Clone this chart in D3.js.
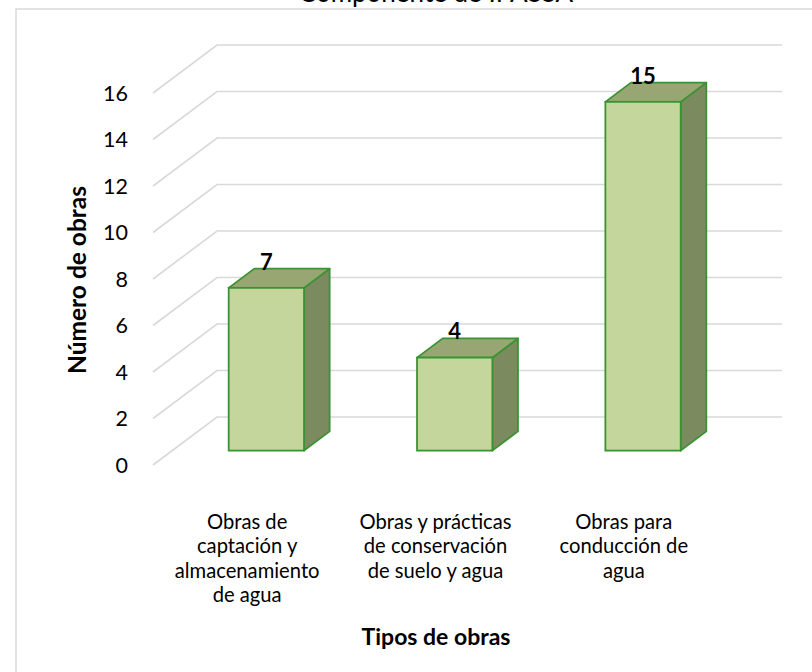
<!DOCTYPE html>
<html>
<head>
<meta charset="utf-8">
<script src="https://cdn.jsdelivr.net/npm/d3@7"></script>
<style>
  html, body { margin: 0; padding: 0; background: #fff; }
  svg { display: block; font-family: Lato, "Open Sans", sans-serif; }
</style>
</head>
<body>
<svg id="chart" width="812" height="672"></svg>
<script>
// Chart content
const title = "Componente de IPASSA";
const categories = [
  ["Obras de", "captación y", "almacenamiento", "de agua"],
  ["Obras y prácticas", "de conservación", "de suelo y agua"],
  ["Obras para", "conducción de", "agua"]
];
const values = [7, 4, 15];
const yTicks = [0, 2, 4, 6, 8, 10, 12, 14, 16];
const yTitle = "Número de obras";
const xTitle = "Tipos de obras";

const svg = d3.select("#chart");

// Frame of the chart area (top and left edges visible)
svg.append("path")
  .attr("d", "M16,672 V9 H812")
  .attr("fill", "none").attr("stroke", "#d9d9d9").attr("stroke-width", 1.5);

// Pseudo-3D geometry: front floor origin and depth vector
const x0 = 153, yFloor = 465, xRight = 718;
const depth = { dx: 64, dy: -48 };

const x = d3.scaleBand()
  .domain(d3.range(values.length))
  .range([x0, xRight])
  .paddingInner(0.6).paddingOuter(0.3);

const h = d3.scaleLinear().domain([0, 16]).range([0, 372]);

// Gridlines: side wall diagonal + back wall horizontal
const grid = svg.append("g");
yTicks.forEach(t => {
  const yf = yFloor - h(t);
  grid.append("path")
    .attr("d", `M${x0},${yf} L${x0 + depth.dx},${yf + depth.dy} H${xRight + depth.dx}`)
    .attr("fill", "none").attr("stroke", "#d9d9d9").attr("stroke-width", 1.6);
});

// Tick labels
svg.append("g").selectAll("text").data(yTicks).join("text")
  .attr("x", 128).attr("y", t => yFloor - h(t))
  .attr("dy", "0.35em")
  .attr("text-anchor", "end")
  .attr("font-size", 21.5).attr("fill", "#000")
  .text(t => t);

// Bars occupy depth 0.3 .. 0.7 of the floor
const dFront = 0.3, dBack = 0.7;
const fx = depth.dx * dFront, fy = depth.dy * dFront;
const ox = depth.dx * (dBack - dFront), oy = depth.dy * (dBack - dFront);
const stroke = "#3a9332";

const bars = svg.append("g").selectAll("g").data(values).join("g");
bars.each(function(v, i) {
  const g = d3.select(this);
  const L = x(i) + fx, R = L + x.bandwidth();
  const B = yFloor + fy, T = B - h(v);
  // right side face
  g.append("path")
    .attr("d", `M${R},${T} L${R + ox},${T + oy} L${R + ox},${B + oy} L${R},${B} Z`)
    .attr("fill", "#7b8a5f").attr("stroke", stroke).attr("stroke-width", 1.8)
    .attr("stroke-linejoin", "round");
  // top face
  g.append("path")
    .attr("d", `M${L},${T} L${L + ox},${T + oy} L${R + ox},${T + oy} L${R},${T} Z`)
    .attr("fill", "#97a673").attr("stroke", stroke).attr("stroke-width", 1.8)
    .attr("stroke-linejoin", "round");
  // front face
  g.append("rect")
    .attr("x", L).attr("y", T).attr("width", R - L).attr("height", B - T)
    .attr("fill", "#c4d69b").attr("stroke", stroke).attr("stroke-width", 1.8);
  // value label
  g.append("text")
    .attr("x", (L + R) / 2).attr("y", T + oy + 1)
    .attr("text-anchor", "middle")
    .attr("font-size", 22).attr("font-weight", "bold").attr("fill", "#000")
    .text(v);
});

// Category labels
svg.append("g").selectAll("text").data(categories).join("text")
  .attr("text-anchor", "middle")
  .attr("font-size", 20.2).attr("fill", "#000")
  .each(function(lines, i) {
    const cx = x(i) + x.bandwidth() / 2;
    d3.select(this).selectAll("tspan").data(lines).join("tspan")
      .attr("x", cx).attr("y", (d, k) => 529 + k * 24.4)
      .text(d => d);
  });

// Axis titles
svg.append("text")
  .attr("x", 436).attr("y", 645)
  .attr("text-anchor", "middle")
  .attr("font-size", 23).attr("font-weight", "bold")
  .text(xTitle);

svg.append("text")
  .attr("transform", "translate(86,280) rotate(-90)")
  .attr("text-anchor", "middle")
  .attr("font-size", 24.5).attr("font-weight", "bold")
  .text(yTitle);

// Chart title (sits against the top edge)
svg.append("text")
  .attr("x", 436).attr("y", 2)
  .attr("text-anchor", "middle")
  .attr("font-size", 26)
  .text(title);
</script>
</body>
</html>
